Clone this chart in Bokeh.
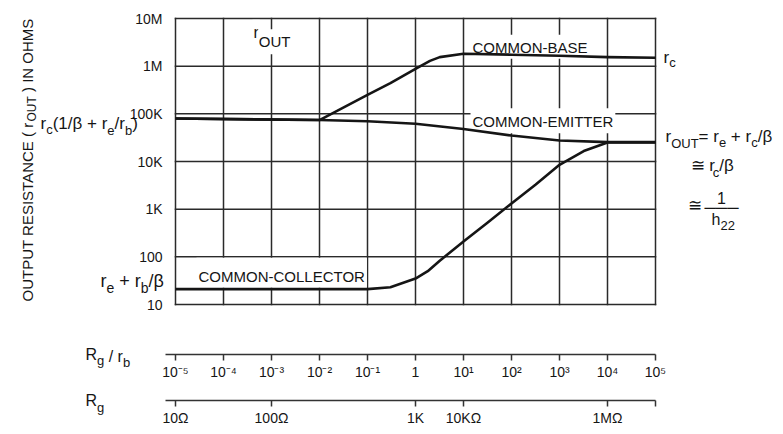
from math import pi
from bokeh.plotting import figure
from bokeh.models import LogAxis, FixedTicker, Label, Range1d
from bokeh.embed import file_html
from bokeh.resources import INLINE

# ---------------- data ----------------
rg_rb_ticks = [1e-5, 1e-4, 1e-3, 1e-2, 1e-1, 1, 1e1, 1e2, 1e3, 1e4, 1e5]
rg_rb_labels = ["10⁻⁵", "10⁻⁴", "10⁻³", "10⁻²", "10⁻¹", "1", "10¹", "10²", "10³", "10⁴", "10⁵"]
rg_ticks = [1e-5, 1e-3, 1, 1e1, 1e4]
rg_labels = ["10Ω", "100Ω", "1K", "10KΩ", "1MΩ"]
rg_end_tick = [1e5]
r_ticks = [10, 100, 1e3, 1e4, 1e5, 1e6, 1e7]
r_labels = ["10", "100", "1K", "10K", "100K", "1M", "10M"]

cb_rg = [1e-5, 1e-2, 1e-1, 0.3, 1, 2, 3.2, 10, 100, 1e3, 1e4, 1e5]
cb_r = [80e3, 74e3, 250e3, 440e3, 880e3, 1.29e6, 1.55e6, 1.82e6, 1.74e6, 1.66e6, 1.55e6, 1.5e6]
ce_rg = [1e-5, 1e-2, 1e-1, 1, 10, 100, 1e3, 1e4, 1e5]
ce_r = [80e3, 74e3, 70e3, 62e3, 48e3, 35e3, 27.5e3, 25.5e3, 25.5e3]
cc_rg = [1e-5, 1e-1, 0.3, 1, 1.8, 3.2, 10, 32, 100, 320, 1e3, 3.2e3, 1e4, 1e5]
cc_r = [21, 21, 23, 35, 50, 83, 209, 525, 1320, 3300, 8500, 16600, 25000, 25000]

# ---------------- layout (window pixels) ----------------
XL, XR, YT, YB = 175, 655, 18, 304
OFF = 0
CANVAS_W, CANVAS_H = 782, 432
BASE_K = 0.39   # Label "alphabetic" anchor sits this many em below the glyph baseline


def dx(X):
    return 10 ** (-5 + 10 * (X - XL) / (XR - XL))


def dy(Y):
    return 10 ** (1 + 6 * (YB - Y) / (YB - YT))


INK = "#151515"
LINE = "#2a2a2a"
FONT = "Liberation Sans"

# the frame covers the whole canvas so that every text can live inside it
p = figure(width=CANVAS_W, height=CANVAS_H, x_axis_type="log", y_axis_type="log",
           x_range=Range1d(dx(OFF), dx(OFF + CANVAS_W)),
           y_range=Range1d(dy(OFF + CANVAS_H), dy(OFF)),
           x_axis_location=None, y_axis_location=None,
           toolbar_location=None, output_backend="svg",
           min_border_left=0, min_border_right=0, min_border_top=0, min_border_bottom=0)
p.outline_line_color = None
p.xgrid.visible = False
p.ygrid.visible = False
p.background_fill_color = "white"
p.border_fill_color = "white"

# grid drawn from the tick arrays
n, m = len(rg_rb_ticks), len(r_ticks)
p.segment(x0=rg_rb_ticks, y0=[r_ticks[0]] * n, x1=rg_rb_ticks, y1=[r_ticks[-1]] * n,
          line_color=LINE, line_width=1.5, line_cap="square")
p.segment(x0=[rg_rb_ticks[0]] * m, y0=r_ticks, x1=[rg_rb_ticks[-1]] * m, y1=r_ticks,
          line_color=LINE, line_width=1.5, line_cap="square")

# curves (above the label boxes)
for xs, ys in ((cb_rg, cb_r), (ce_rg, ce_r), (cc_rg, cc_r)):
    p.line(xs, ys, line_color=INK, line_width=2.6, line_join="round", level="overlay")

# y axis
ya = LogAxis(fixed_location=rg_rb_ticks[0], ticker=FixedTicker(ticks=r_ticks),
             major_label_overrides=dict(zip(r_ticks, r_labels)),
             bounds=(r_ticks[0], r_ticks[-1]))
ya.axis_line_color = None
ya.major_tick_line_color = None
ya.minor_tick_line_color = None
ya.major_label_standoff = 7
ya.major_label_text_font = FONT
ya.major_label_text_font_size = "14px"
ya.major_label_text_color = INK
p.add_layout(ya, "left")


def style_axis(ax):
    ax.axis_line_color = "#333333"
    ax.axis_line_width = 1.6
    ax.major_tick_line_color = "#333333"
    ax.major_tick_line_width = 1.5
    ax.major_tick_out = 6
    ax.major_tick_in = 0
    ax.minor_tick_line_color = "#333333"
    ax.minor_tick_line_width = 1.5
    ax.minor_tick_out = 6
    ax.minor_tick_in = 0
    ax.major_label_standoff = 3
    ax.major_label_text_font = FONT
    ax.major_label_text_font_size = "14px"
    ax.major_label_text_color = INK


ax1 = LogAxis(fixed_location=dy(354), ticker=FixedTicker(ticks=rg_rb_ticks),
              major_label_overrides=dict(zip(rg_rb_ticks, rg_rb_labels)),
              bounds=(dx(165), rg_rb_ticks[-1]))
style_axis(ax1)
p.add_layout(ax1, "below")

ax2 = LogAxis(fixed_location=dy(400), ticker=FixedTicker(ticks=rg_ticks, minor_ticks=rg_end_tick),
              major_label_overrides=dict(zip(rg_ticks, rg_labels)),
              bounds=(dx(165), rg_rb_ticks[-1]))
style_axis(ax2)
p.add_layout(ax2, "below")

# ---------------- text ----------------
W = {' ': .278, '(': .333, ')': .333, '/': .278, '+': .584, '=': .584, '-': .333,
     '0': .556, '1': .556, '2': .556, 'r': .333, 'c': .5, 'e': .556, 'b': .556, 'g': .556,
     'h': .556, 'β': .575, '≅': .7, 'O': .778, 'U': .722, 'T': .611, 'R': .722, 'I': .278,
     'N': .722, 'H': .722, 'M': .833, 'S': .667, 'P': .667, 'E': .667, 'A': .667, 'C': .722}


def tw(s, size):
    return sum(W.get(ch, 0.6) for ch in s) * size


def lab(X, Y, text, size, align="left", baseline="alphabetic", angle=0.0, **kw):
    # (X, Y) is the wanted glyph baseline point in window pixels
    if baseline == "alphabetic":
        if angle == 0.0:
            Y -= BASE_K * size
        else:
            X -= BASE_K * size
    p.add_layout(Label(x=dx(X), y=dy(Y), text=text, text_font=FONT,
                       text_font_size=f"{size}px", text_color=INK, text_align=align,
                       text_baseline=baseline, angle=angle, **kw))


def chain(X, Y, parts, **kw):
    for text, size, off in parts:
        lead = len(text) - len(text.lstrip(" "))
        X += tw(" " * lead, size)
        text = text.lstrip(" ")
        lab(X, Y + off, text, size, **kw)
        X += tw(text, size)


def vchain(X, Y, parts):
    for text, size, off in parts:
        lead = len(text) - len(text.lstrip(" "))
        Y -= tw(" " * lead, size)
        text = text.lstrip(" ")
        lab(X + off, Y, text, size, angle=pi / 2)
        Y -= tw(text, size)


# y axis title (rotated)
vchain(33, 301, [("OUTPUT RESISTANCE ( r", 15, 0), ("OUT", 12, 3), (" ) IN OHMS", 15, 0)])

# in-plot labels
chain(252, 38, [("r", 16, 0), ("OUT", 15, 9)],
      background_fill_color="white", padding=dict(left=1, right=1, top=4, bottom=4))
lab(470, 52, "COMMON-BASE", 15, background_fill_color="white",
    padding=dict(left=2, right=2, top=4, bottom=3))
lab(470, 126, "COMMON-EMITTER", 15, background_fill_color="white",
    padding=dict(left=2, right=2, top=5, bottom=3))
lab(196, 278, "COMMON-COLLECTOR", 15, background_fill_color="white",
    padding=dict(left=2, right=2, top=10, bottom=3))

# left-side level labels
chain(40, 130, [("r", 17, 0), ("c", 13, 4), ("(1/β + r", 17, 0), ("e", 13, 5),
                ("/r", 17, 0), ("b", 13, 5), (")", 17, 0)])
chain(100, 288, [("r", 18, 0), ("e", 14, 5), (" + r", 18, 0), ("b", 14, 5), ("/β", 18, 0)])

# right-side labels
chain(663, 64, [("r", 17, 0), ("c", 13, 3)])
chain(665, 143, [("r", 17, 0), ("OUT", 13, 5), ("= r", 17, 0), ("e", 13, 4),
                 (" + r", 17, 0), ("c", 13, 4), ("/β", 17, 0)])
chain(690, 172, [("≅ r", 17, 0), ("c", 13, 5), ("/β", 17, 0)])
lab(687, 212, "≅", 17)
lab(721, 204, "1", 16, align="center")
lab(721, 207, "───", 16, align="center", baseline="middle")
chain(711, 225, [("h", 16, 0), ("22", 13, 5)])

# bottom-left axis titles
chain(85, 360, [("R", 16, 0), ("g", 13, 5), (" / r", 16, 2), ("b", 13, 7)])
chain(85, 406, [("R", 16, 0), ("g", 13, 6)])

open("out.html", "w").write(file_html(p, INLINE))
